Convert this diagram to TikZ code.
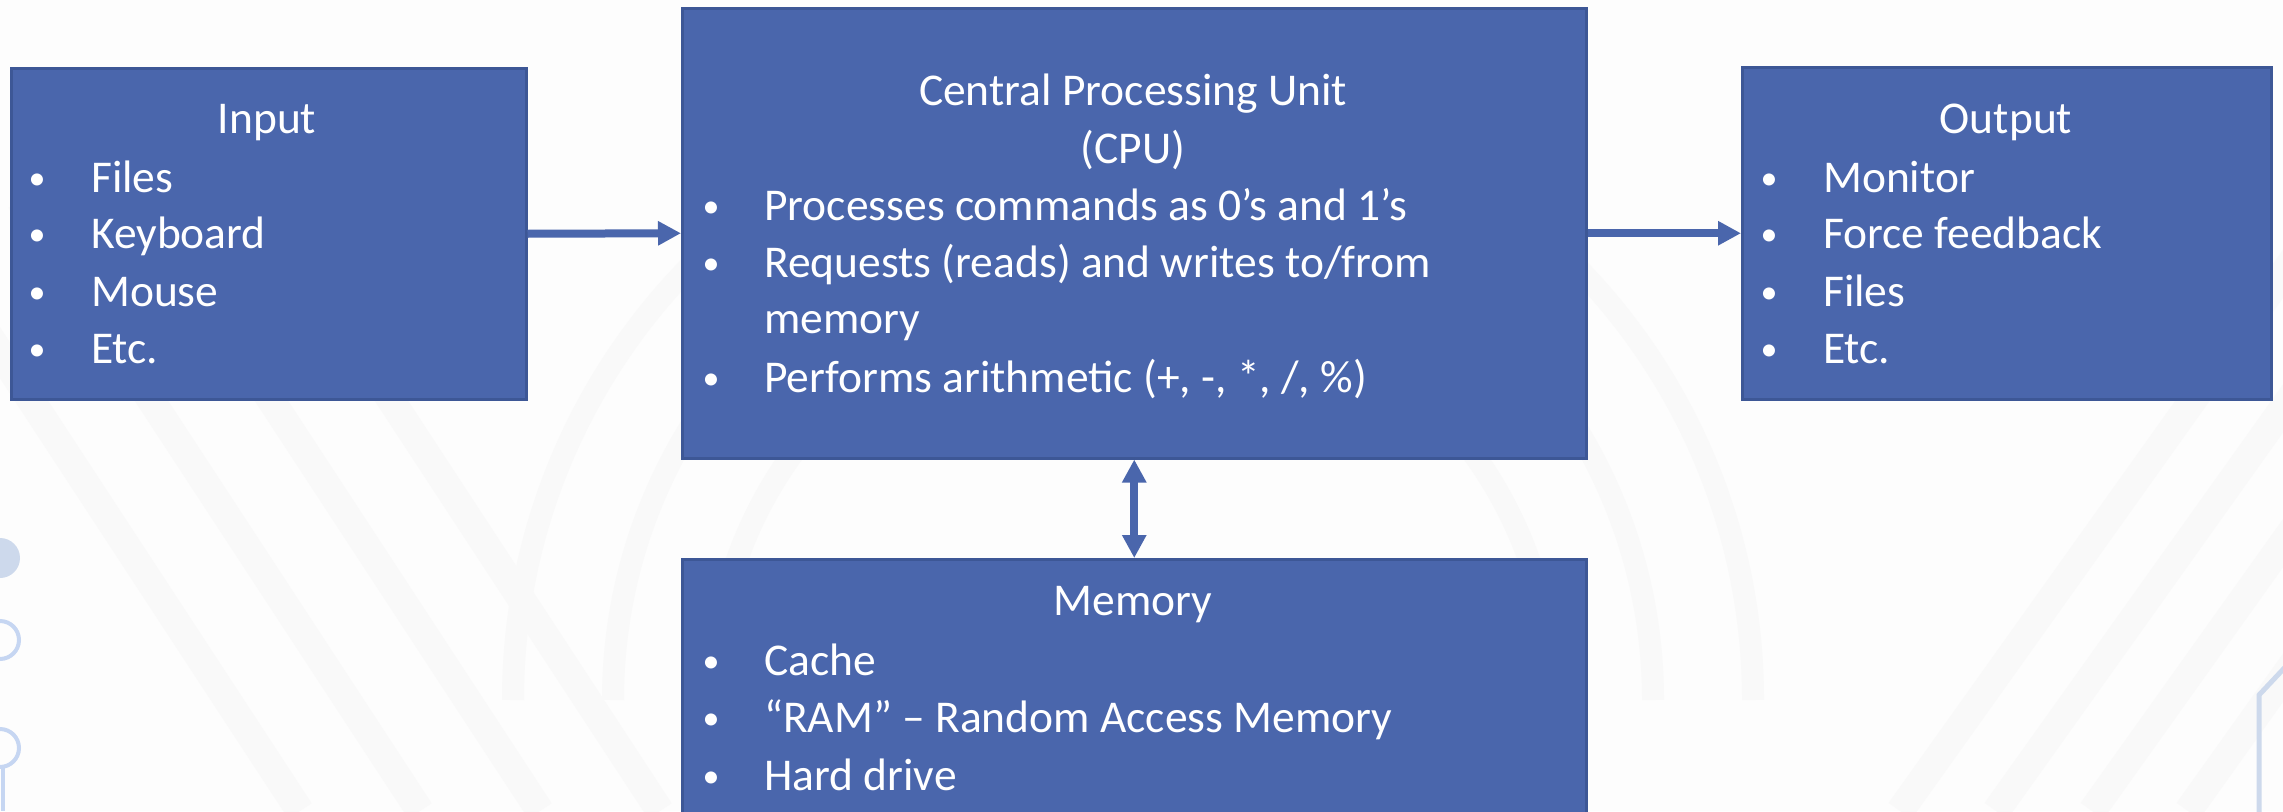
\documentclass[tikz,border=0pt]{standalone}
\usepackage{fontspec}
\setmainfont{Carlito}
\usetikzlibrary{arrows.meta}
\definecolor{boxfill}{HTML}{4A66AC}
\definecolor{boxedge}{HTML}{3D5796}
\definecolor{deco}{HTML}{C6D6F2}
\definecolor{decob}{HTML}{CDD9EC}
\definecolor{bg}{HTML}{FDFDFD}
\definecolor{band}{HTML}{F9F9F9}
\tikzset{
  blk/.style={draw=boxedge, line width=2.5pt, fill=boxfill, rectangle, inner sep=0pt, anchor=north west},
  txt/.style={text=white, font=\fontsize{45.5}{54}\selectfont, inner sep=0pt, anchor=base west},
  ttl/.style={text=white, font=\fontsize{45.5}{54}\selectfont, inner sep=0pt, anchor=base},
  bul/.style={text=white, font=\fontsize{34}{40}\selectfont, inner sep=0pt, anchor=base},
  conn/.style={draw=boxfill, line width=8pt},
  tip/.tip={Triangle[length=23pt,width=23pt]},
  bandline/.style={draw=band, line width=28pt},
}
\begin{document}
\begin{tikzpicture}[x=1pt,y=-1pt]
\useasboundingbox (0,0) rectangle (2283,811);
\clip (0,0) rectangle (2283,811);
\fill[bg] (0,0) rectangle (2283,811);
% faint background bands
\foreach \d in {0,120,240,360}{
  \draw[bandline] (-100+\d,200) -- (300+\d,811);
  \draw[bandline] (1900+\d*0.8,811) -- (2300+\d*0.8,250);
}
\foreach \r in {420,520,620}{
  \draw[band, line width=22pt] (1133-\r,700) arc (180:360:\r);
}
% decorations
\fill[decob] (0,558) circle (20);
\draw[deco, line width=4pt] (0,640) circle (19);
\draw[deco, line width=4pt] (0,748) circle (19);
\draw[deco, line width=4pt] (3,767) -- (3,811);
\draw[decob, line width=5pt] (2290,662) -- (2259,695) -- (2259,820);
% boxes
\node[blk, minimum width=515pt, minimum height=331pt] (inp) at (10,67) {};
\node[blk, minimum width=904pt, minimum height=450pt] (cpu) at (681,7) {};
\node[blk, minimum width=529pt, minimum height=332pt] (out) at (1741,66) {};
\node[blk, minimum width=904pt, minimum height=300pt] (mem) at (681,558) {};
% connectors
\draw[conn, -tip] (inp.east) -- (cpu.west);
\draw[conn, -tip] (cpu.east) -- (out.west);
\draw[conn, tip-tip] (cpu.south) -- (mem.north);
% input text
\node[ttl] (inpT) at (267,133) {Input};
\node[bul] (inpB1) at (37,189) {•}; \node[txt] (inp1) at (91,192) {Files};
\node[bul] (inpB2) at (37,245) {•}; \node[txt] (inp2) at (91,248) {Keyboard};
\node[bul] (inpB3) at (37,303) {•}; \node[txt] (inp3) at (91,306) {Mouse};
\node[bul] (inpB4) at (37,360) {•}; \node[txt] (inp4) at (91,363) {Etc.};
% cpu text
\node[ttl] (cpuT1) at (1133,105) {Central Processing Unit};
\node[ttl] (cpuT2) at (1133,163) {(CPU)};
\node[bul] (cpuB1) at (711,217) {•}; \node[txt] (cpu1) at (764,220) {Processes commands as 0’s and 1’s};
\node[bul] (cpuB2) at (711,274) {•}; \node[txt] (cpu2) at (764,277) {Requests (reads) and writes to/from};
\node[txt] (cpu2b) at (764,333) {memory};
\node[bul] (cpuB3) at (711,389) {•}; \node[txt] (cpu3) at (764,392) {Performs arithmetic (+, -, *, /, \%)};
% output text
\node[ttl] (outT) at (2006,133) {Output};
\node[bul] (outB1) at (1769,189) {•}; \node[txt] (out1) at (1823,192) {Monitor};
\node[bul] (outB2) at (1769,245) {•}; \node[txt] (out2) at (1823,248) {Force feedback};
\node[bul] (outB3) at (1769,303) {•}; \node[txt] (out3) at (1823,306) {Files};
\node[bul] (outB4) at (1769,360) {•}; \node[txt] (out4) at (1823,363) {Etc.};
% memory text
\node[ttl] (memT) at (1133,615) {Memory};
\node[bul] (memB1) at (711,672) {•}; \node[txt] (mem1) at (764,675) {Cache};
\node[bul] (memB2) at (711,729) {•}; \node[txt] (mem2) at (764,732) {“RAM” – Random Access Memory};
\node[bul] (memB3) at (711,787) {•}; \node[txt] (mem3) at (764,790) {Hard drive};
\end{tikzpicture}
\end{document}
